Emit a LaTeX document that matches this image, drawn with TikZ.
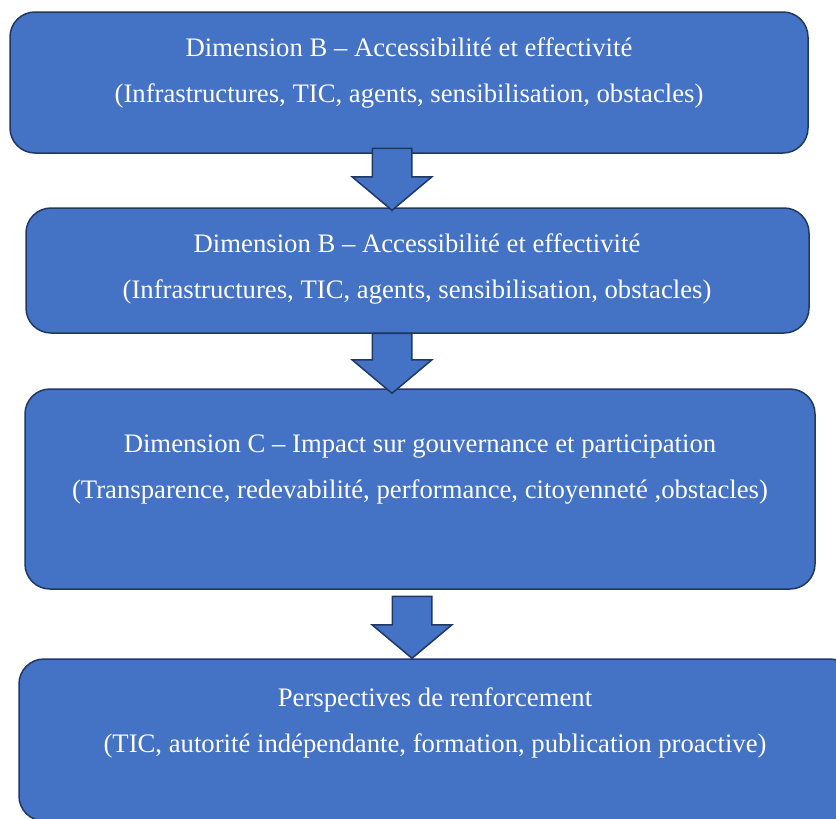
\documentclass[tikz,border=0pt]{standalone}
\usepackage{fontspec}
\setmainfont{Liberation Serif}
\usetikzlibrary{shapes.arrows}
\definecolor{boxblue}{HTML}{4472C4}
\definecolor{boxedge}{HTML}{1F3864}
\tikzset{
  stagebox/.style={draw=boxedge, fill=boxblue, line width=1.5pt, rounded corners=25pt, inner sep=0pt},
  stagetext/.style={align=center, text=white, font=\fontsize{26.7}{46}\selectfont},
  downarrow/.style={single arrow, draw=boxedge, fill=boxblue, line width=1.5pt, rotate=-90, inner sep=19pt,
    single arrow head extend=20pt, single arrow tip angle=100}
}
\begin{document}
\begin{tikzpicture}[x=1pt, y=-1pt]
    \useasboundingbox (0,0) rectangle (836,819);
    \node[stagebox, minimum width=798pt, minimum height=141pt] (A) at (409,82.5) {};
    \node[stagetext] (Atext) at (409,73) {Dimension B -- Accessibilité et effectivité\\(Infrastructures, TIC, agents, sensibilisation, obstacles)};
    
    \node[stagebox, minimum width=783pt, minimum height=125pt] (B) at (417.5,270.5) {};
    \node[stagetext] (Btext) at (417,268.5) {Dimension B -- Accessibilité et effectivité\\(Infrastructures, TIC, agents, sensibilisation, obstacles)};
    
    \node[stagebox, minimum width=790pt, minimum height=200pt] (C) at (420,489) {};
    \node[stagetext] (Ctext) at (420,470) {Dimension C -- Impact sur gouvernance et participation\\(Transparence, redevabilité, performance, citoyenneté ,obstacles)};
    
    \node[stagebox, minimum width=836pt, minimum height=162pt] (D) at (437,740) {};
    \node[stagetext] (Dtext) at (435,723) {Perspectives de renforcement\\(TIC, autorité indépendante, formation, publication proactive)};
    
    % block arrows between the stages
    \node[downarrow, minimum height=62pt] (AB) at (392,171) {};
    \node[downarrow, minimum height=60pt] (BC) at (392,355) {};
    \node[downarrow, minimum height=62pt] (CD) at (412,619) {};
\end{tikzpicture}
\end{document}
